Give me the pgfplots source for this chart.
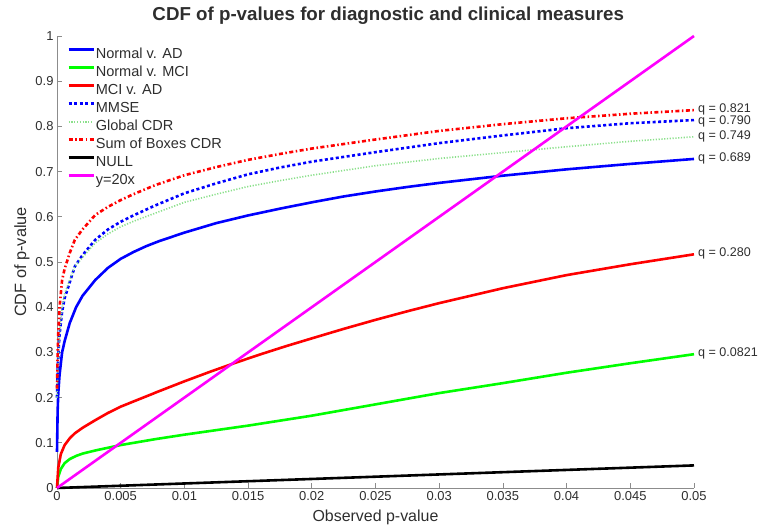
\documentclass[border=0pt]{standalone}
\usepackage{fontspec}
\setmainfont{Liberation Sans}
\usepackage{pgfplots}
\pgfplotsset{compat=1.18}

% curve colours
\definecolor{cblue}{rgb}{0,0,1}
\definecolor{cgreen}{rgb}{0,1,0}
\definecolor{cred}{rgb}{1,0,0}
\definecolor{cmag}{rgb}{1,0,1}
\definecolor{cpale}{rgb}{0.55,0.88,0.55}
\definecolor{axgray}{rgb}{0.55,0.55,0.55}
\definecolor{txt}{rgb}{0.18,0.18,0.18}

\begin{document}
\begin{tikzpicture}
\path[use as bounding box] (0bp,0bp) rectangle (759bp,529bp);
\begin{axis}[
  at={(57bp,41bp)}, anchor=south west,
  scale only axis, width=637bp, height=452bp,
  xmin=0, xmax=0.05, ymin=0, ymax=1,
  axis x line*=bottom, axis y line*=left,
  axis line style={-, draw=axgray, line width=0.8bp},
  tick align=inside, major tick length=5bp,
  tick style={draw=axgray, line width=0.8bp},
  scaled x ticks=false, scaled y ticks=false,
  xtick={0,0.005,0.01,0.015,0.02,0.025,0.03,0.035,0.04,0.045,0.05},
  xticklabels={0,0.005,0.01,0.015,0.02,0.025,0.03,0.035,0.04,0.045,0.05},
  ytick={0,0.1,0.2,0.3,0.4,0.5,0.6,0.7,0.8,0.9,1},
  yticklabels={0,0.1,0.2,0.3,0.4,0.5,0.6,0.7,0.8,0.9,1},
  /pgf/number format/assume math mode=true,
  tick label style={font=\fontsize{13}{15}\selectfont, text=txt},
  xlabel={Observed p-value},
  ylabel={CDF of p-value},
  xlabel style={font=\fontsize{16}{18}\selectfont, text=txt,
    at={(axis description cs:0.5,-0.066)}, anchor=center},
  ylabel style={font=\fontsize{16.4}{19}\selectfont, text=txt,
    at={(axis description cs:-0.055,0.5)}, anchor=center, rotate=0},
  title={CDF of p-values for diagnostic and clinical measures},
  every axis title shift=0pt,
  title style={font=\bfseries\fontsize{18.8}{21}\selectfont, text=txt,
    at={(axis description cs:0.52,1.046)}, anchor=center},
  legend cell align=left,
  legend image code/.code={\draw[#1] (0bp,4.8bp) -- (25bp,4.8bp);},
  legend style={at={(rel axis cs:0.0157,0.976)}, anchor=north west,
    draw=none, fill=none, inner sep=0pt, row sep=3.0bp,
    font=\fontsize{14.6}{16}\selectfont, text=txt,
    nodes={inner sep=1bp, text height=10bp, text depth=3bp}},
  clip=false,
]

% Normal v. AD
\addplot[cblue, line width=2.6bp] coordinates {
(0,0.08) (0.00005,0.17) (0.0001,0.21) (0.0002,0.25) (0.0004,0.30)
(0.0006,0.325) (0.001,0.365) (0.0015,0.40) (0.002,0.425) (0.003,0.46)
(0.004,0.487) (0.005,0.507) (0.006,0.522) (0.007,0.535) (0.008,0.546)
(0.01,0.565) (0.0125,0.586) (0.015,0.603) (0.0175,0.618) (0.02,0.632)
(0.0225,0.645) (0.025,0.656) (0.0275,0.666) (0.03,0.675) (0.035,0.691)
(0.04,0.705) (0.045,0.717) (0.05,0.728)};
\addlegendentry{Normal v. AD}

% Normal v. MCI
\addplot[cgreen, line width=2.6bp] coordinates {
(0,0) (0.0001,0.025) (0.0003,0.042) (0.0006,0.055) (0.001,0.064)
(0.0015,0.071) (0.002,0.076) (0.003,0.083) (0.004,0.089) (0.005,0.095)
(0.0077,0.108) (0.01,0.118) (0.015,0.138) (0.02,0.160) (0.025,0.185)
(0.03,0.210) (0.035,0.232) (0.04,0.255) (0.045,0.276) (0.05,0.296)};
\addlegendentry{Normal v. MCI}

% MCI v. AD
\addplot[cred, line width=2.6bp] coordinates {
(0,0) (0.0001,0.045) (0.0003,0.075) (0.0006,0.095) (0.001,0.11)
(0.0014,0.121) (0.002,0.133) (0.003,0.150) (0.004,0.166) (0.005,0.180)
(0.0065,0.197) (0.008,0.214) (0.01,0.236) (0.012,0.257) (0.014,0.277)
(0.016,0.296) (0.018,0.314) (0.02,0.331) (0.0225,0.352) (0.025,0.372)
(0.0275,0.391) (0.03,0.409) (0.035,0.442) (0.04,0.471) (0.045,0.495)
(0.05,0.517)};
\addlegendentry{MCI v. AD}

% MMSE
\addplot[cblue, line width=2.6bp, dash pattern=on 3bp off 2.5bp] coordinates {
(0,0.20) (0.00005,0.26) (0.0001,0.29) (0.0002,0.34) (0.0004,0.39)
(0.0006,0.42) (0.001,0.455) (0.0014,0.49) (0.002,0.515) (0.003,0.549)
(0.004,0.572) (0.005,0.589) (0.006,0.603) (0.0077,0.625) (0.01,0.652)
(0.0125,0.674) (0.015,0.694) (0.0175,0.709) (0.02,0.722) (0.025,0.743)
(0.03,0.763) (0.035,0.780) (0.04,0.796) (0.045,0.807) (0.05,0.814)};
\addlegendentry{MMSE}

% Global CDR
\addplot[cpale, line width=1.6bp, dash pattern=on 1.2bp off 1.6bp] coordinates {
(0,0.20) (0.0001,0.29) (0.0002,0.345) (0.0004,0.40) (0.0006,0.43)
(0.001,0.46) (0.0014,0.49) (0.002,0.51) (0.003,0.542) (0.004,0.562)
(0.005,0.578) (0.006,0.590) (0.0077,0.608) (0.01,0.632) (0.0125,0.650)
(0.015,0.667) (0.0175,0.680) (0.02,0.692) (0.025,0.713) (0.03,0.729)
(0.035,0.742) (0.04,0.755) (0.045,0.767) (0.05,0.777)};
\addlegendentry{Global CDR}

% Sum of Boxes CDR
\addplot[cred, line width=2.6bp, dash pattern=on 4bp off 2.5bp on 1.5bp off 2.5bp] coordinates {
(0,0.22) (0.00005,0.30) (0.0001,0.343) (0.0002,0.40) (0.0004,0.46)
(0.0006,0.485) (0.001,0.52) (0.0014,0.549) (0.002,0.572) (0.003,0.604)
(0.004,0.622) (0.005,0.637) (0.006,0.650) (0.0077,0.670) (0.01,0.692)
(0.0125,0.710) (0.015,0.726) (0.0175,0.739) (0.02,0.751) (0.025,0.771)
(0.03,0.790) (0.035,0.805) (0.04,0.818) (0.045,0.828) (0.05,0.836)};
\addlegendentry{Sum of Boxes CDR}

% NULL
\addplot[black, line width=2.6bp] coordinates {(0,0) (0.05,0.05)};
\addlegendentry{NULL}

% y = 20x
\addplot[cmag, line width=2.6bp] coordinates {(0,0) (0.05,1)};
\addlegendentry{y=20x}

% q-values at the end of each curve
\begin{scope}[every node/.style={anchor=west, inner sep=0pt, xshift=4bp,
    font=\fontsize{12.6}{14}\selectfont, text=txt}]
\node at (axis cs:0.05,0.838) {q = 0.821};
\node at (axis cs:0.05,0.812) {q = 0.790};
\node at (axis cs:0.05,0.777) {q = 0.749};
\node at (axis cs:0.05,0.729) {q = 0.689};
\node at (axis cs:0.05,0.518) {q = 0.280};
\node at (axis cs:0.05,0.297) {q = 0.0821};
\end{scope}
\end{axis}
\end{tikzpicture}
\end{document}
